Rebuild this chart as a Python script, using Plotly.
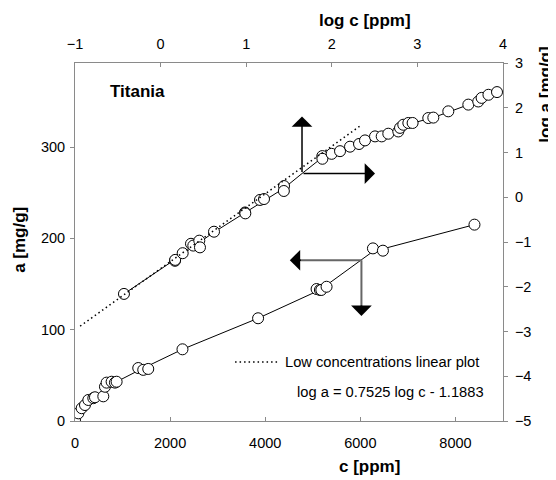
import plotly.graph_objects as go

# ---- data: linear isotherm (bottom/left axes) ----
c_ppm = [0, 70, 140, 210, 280, 385, 420, 595, 630, 665, 770, 840, 875,
         1330, 1435, 1540, 2260, 3850, 5080, 5150, 5180, 5290, 6265, 6475, 8400]
a_mgg = [1, 8.4, 14, 17.5, 23, 25, 26, 27, 37.5, 42, 43, 42, 43,
         58, 56, 57, 78.5, 112.5, 144.5, 143.5, 143.5, 147, 189, 186.5, 215]
c_fit = [0, 300, 800, 1400, 2260, 3850, 5150, 6023, 6300, 6475, 8400]
a_fit = [1, 22, 41, 57, 78.5, 112.5, 143.5, 176, 187, 188.5, 215]

# ---- data: log-log isotherm (top/right axes) ----
log_c = [-0.428, 0.168, 0.17, 0.258, 0.355, 0.382, 0.452, 0.46, 0.624, 0.986, 0.99,
         1.161, 1.208, 1.442, 1.44, 1.889, 1.89, 1.998, 2.096, 2.213, 2.318, 2.388,
         2.505, 2.583, 2.66, 2.777, 2.797, 2.835, 2.894, 2.944, 3.127, 3.186, 3.361,
         3.595, 3.711, 3.75, 3.83, 3.93]
log_a = [-2.16, -1.42, -1.40, -1.25, -1.04, -1.08, -0.97, -1.12, -0.77, -0.34, -0.36,
         -0.06, -0.04, 0.25, 0.14, 0.92, 0.86, 0.97, 1.03, 1.13, 1.19, 1.27,
         1.36, 1.36, 1.42, 1.47, 1.55, 1.62, 1.66, 1.66, 1.77, 1.78, 1.92,
         2.07, 2.14, 2.22, 2.29, 2.35]
logc_fit = [-0.428, 0.2, 0.624, 1.0, 1.44, 1.652, 1.89, 2.2, 2.5, 2.8, 2.95, 3.2, 3.6, 3.93]
loga_fit = [-2.16, -1.35, -0.78, -0.33, 0.2, 0.53, 0.89, 1.12, 1.35, 1.53, 1.66, 1.79, 2.07, 2.35]
logc_low = [-0.94, 2.35]
loga_low = [-2.88, 1.62]

FONT = "Liberation Sans, Arial, sans-serif"
DOT = "1.5px,3px"

fig = go.Figure()
fig.add_trace(go.Scatter(x=c_fit, y=a_fit, mode="lines",
                         line=dict(color="black", width=1), xaxis="x", yaxis="y"))
fig.add_trace(go.Scatter(x=logc_fit, y=loga_fit, mode="lines",
                         line=dict(color="black", width=1), xaxis="x2", yaxis="y2"))
fig.add_trace(go.Scatter(x=c_ppm, y=a_mgg, mode="markers",
                         marker=dict(size=11, color="white", line=dict(color="black", width=1)),
                         xaxis="x", yaxis="y"))
fig.add_trace(go.Scatter(x=log_c, y=log_a, mode="markers",
                         marker=dict(size=11, color="white", line=dict(color="black", width=1)),
                         xaxis="x2", yaxis="y2"))
fig.add_trace(go.Scatter(x=logc_low, y=loga_low, mode="lines",
                         line=dict(color="black", width=1.5, dash=DOT),
                         xaxis="x2", yaxis="y2"))

axcol = "#8a8a8a"
tickfont = dict(family=FONT, size=14.5, color="black")
fig.update_layout(
    width=548, height=472,
    margin=dict(l=67, r=53, t=55, b=59),
    paper_bgcolor="white", plot_bgcolor="white",
    showlegend=False,
    font=dict(family=FONT, color="black"),
    xaxis=dict(range=[0, 9000], tickvals=[0, 2000, 4000, 6000, 8000], showgrid=False,
               zeroline=False, showline=True, linecolor=axcol, linewidth=1,
               ticks="inside", ticklen=4, tickcolor=axcol, tickfont=tickfont,
               ticklabelstandoff=9),
    yaxis=dict(range=[0, 392], tickvals=[0, 100, 200, 300], showgrid=False,
               zeroline=False, showline=True, linecolor=axcol, linewidth=1,
               ticks="outside", ticklen=4, tickcolor=axcol, tickfont=tickfont,
               ticklabelstandoff=2),
    xaxis2=dict(range=[-1, 4], tickvals=[-1, 0, 1, 2, 3, 4], overlaying="x", side="top",
                anchor="y", showgrid=False, zeroline=False, showline=True, linecolor=axcol,
                linewidth=1, ticks="inside", ticklen=4, tickcolor=axcol, tickfont=tickfont,
                ticklabelstandoff=7),
    yaxis2=dict(range=[-5, 3], tickvals=list(range(-5, 4)), overlaying="y", side="right",
                anchor="x", showgrid=False, zeroline=False, showline=True, linecolor=axcol,
                linewidth=1, ticks="outside", ticklen=4, tickcolor=axcol, tickfont=tickfont,
                ticklabelstandoff=4),
)

bold = dict(family=FONT, size=17, color="black")
ann = [
    dict(text="<b>c [ppm]</b>", x=0.689, y=-0.128, font=bold),
    dict(text="<b>log c [ppm]</b>", x=0.678, y=1.120, font=bold),
    dict(text="<b>a [mg/g]</b>", x=-0.1285, y=0.506, font=bold, textangle=-90),
    dict(text="<b>log a [mg/g]</b>", x=1.10, y=0.911, font=bold, textangle=-90),
    dict(text="<b>Titania</b>", x=0.077, y=0.919, xanchor="left", font=dict(family=FONT, size=17)),
    dict(text="Low concentrations linear plot", x=0.486, y=0.165, xanchor="left",
         font=dict(family=FONT, size=14.7)),
    dict(text="log a = 0.7525 log c - 1.1883", x=0.960, y=0.081, xanchor="right",
         font=dict(family=FONT, size=14.7)),
]
for a in ann:
    a.setdefault("xanchor", "center")
    fig.add_annotation(xref="paper", yref="paper", showarrow=False, yanchor="middle", **a)

fig.add_shape(type="line", xref="paper", yref="paper", x0=0.374, x1=0.479, y0=0.165, y1=0.165,
              line=dict(color="black", width=1.5, dash=DOT))

# direction arrows: upper pair (log axes), black
arrows = [
    dict(xref="x2", yref="y2", axref="x2", ayref="y2", x=1.652, y=1.807, ax=1.652, ay=0.53),
    dict(xref="x2", yref="y2", axref="x2", ayref="y2", x=2.505, y=0.53, ax=1.652, ay=0.53),
]
for a in arrows:
    fig.add_annotation(text="", showarrow=True, arrowhead=1, arrowsize=2.3, arrowwidth=1.5,
                       arrowcolor="black", **a)

# lower pair (linear axes): grey shafts with black heads
fig.add_shape(type="line", xref="x", yref="y", x0=6023, x1=4700, y0=176, y1=176,
              line=dict(color="#666666", width=2))
fig.add_shape(type="line", xref="x", yref="y", x0=6023, x1=6023, y0=176, y1=125,
              line=dict(color="#666666", width=2))
fig.add_annotation(text="", showarrow=True, arrowhead=1, arrowsize=2.3, arrowwidth=1.5,
                   arrowcolor="black", xref="x", yref="y", axref="x", ayref="y",
                   x=4517, y=176, ax=4780, ay=176)
fig.add_annotation(text="", showarrow=True, arrowhead=1, arrowsize=2.3, arrowwidth=1.5,
                   arrowcolor="black", xref="x", yref="y", axref="x", ayref="y",
                   x=6023, y=115, ax=6023, ay=128)

fig.write_html("out.html")
